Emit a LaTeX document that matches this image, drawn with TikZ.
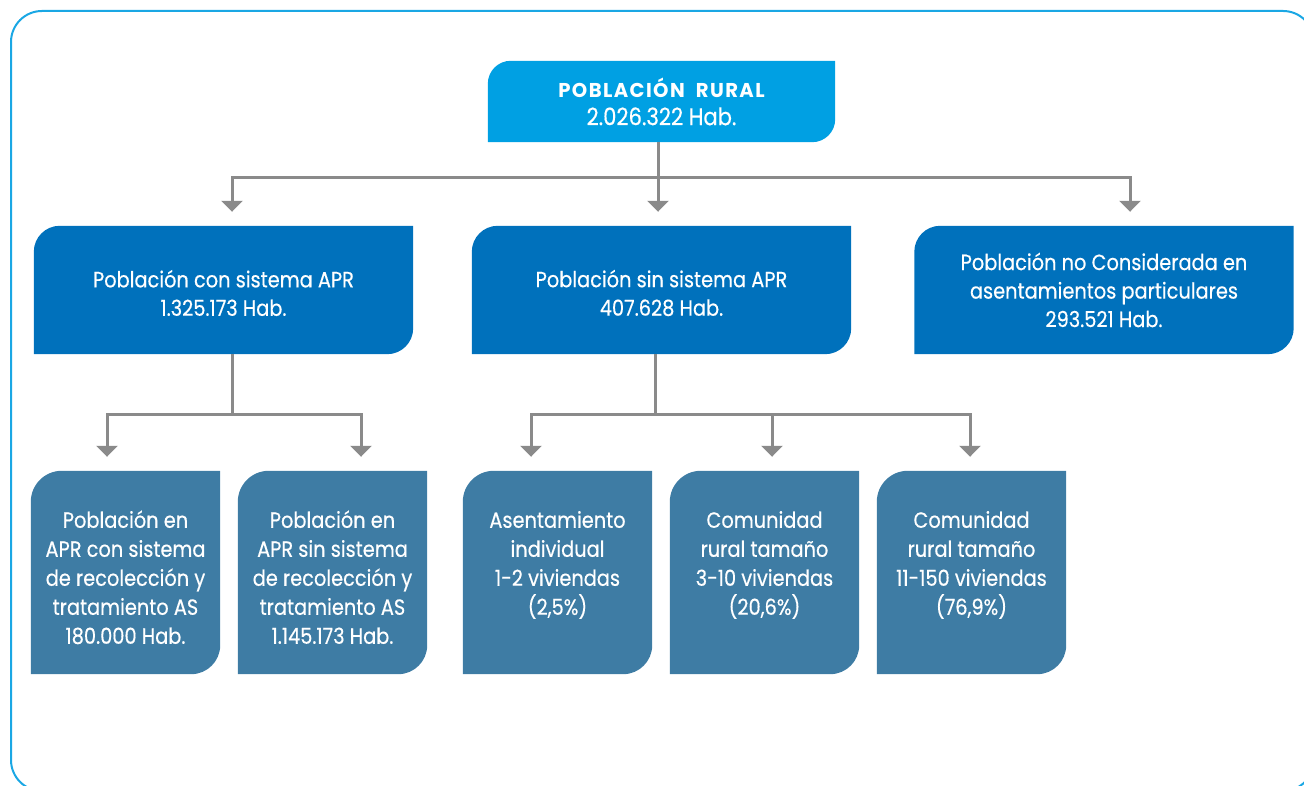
\documentclass[tikz,border=0pt]{standalone}
\usepackage{fontspec}
\setmainfont{Poppins}[FakeStretch=0.88, FakeBold=0.4]
\newfontfamily\headfont{Poppins}[FakeStretch=0.98, LetterSpace=7]
\usetikzlibrary{arrows.meta,backgrounds}

\definecolor{frameblue}{HTML}{1AA7E4}
\definecolor{topblue}{HTML}{00A0E3}
\definecolor{midblue}{HTML}{0071BC}
\definecolor{lowblue}{HTML}{3E7CA4}
\definecolor{linkgray}{HTML}{8A8A8A}

\newcommand{\lowtext}[1]{\parbox[c][130pt][t]{186pt}{\centering\strut #1}}
\newcommand{\midtext}[1]{\parbox{370pt}{\vspace*{6pt}\centering #1}}

\begin{document}
\begin{tikzpicture}[x=1pt,y=1pt,
  box/.style={rectangle, inner sep=0pt, text=white, align=center},
  topbox/.style={box, minimum width=347pt, minimum height=81pt,
    font=\fontsize{24}{28}\selectfont},
  midbox/.style={box, minimum width=379pt, minimum height=128pt,
    font=\fontsize{22}{28.5}\selectfont},
  lowbox/.style={box, minimum width=189pt, minimum height=203pt,
    font=\fontsize{22}{29}\selectfont},
  link/.style={draw=linkgray, line width=3pt,
    -{Triangle[width=21pt,length=11pt]}, shorten >=14pt},
]
\useasboundingbox (0,0) rectangle (1304,786);

% outer frame, running past the right and lower edges
\begin{scope}
  \clip (0,0) rectangle (1304,786);
  \draw[frameblue, line width=2pt, rounded corners=31pt] (11,775) rectangle (1314,-5);
\end{scope}

% boxes
\node[topbox] (top) at (661.5,684.5)
  {{\headfont\bfseries\fontsize{20}{28}\selectfont POBLACIÓN\ \ RURAL}\\2.026.322 Hab.};

\node[midbox] (A) at (223.5,496) {\midtext{Población con sistema APR\\1.325.173 Hab.}};
\node[midbox] (B) at (661.5,496) {\midtext{Población sin sistema APR\\407.628 Hab.}};
\node[midbox] (C) at (1104,496)
  {Población no Considerada en\\asentamientos particulares\\293.521 Hab.};

\node[lowbox] (p1) at (125.5,213.5)
  {\lowtext{Población en\\APR con sistema\\de recolección y\\tratamiento AS\\180.000 Hab.}};
\node[lowbox] (p2) at (332.5,213.5)
  {\lowtext{Población en\\APR sin sistema\\de recolección y\\tratamiento AS\\1.145.173 Hab.}};
\node[lowbox] (p3) at (557.5,213.5)
  {\lowtext{Asentamiento\\individual\\1-2 viviendas\\(2,5\%)}};
\node[lowbox] (p4) at (764.5,213.5)
  {\lowtext{Comunidad\\rural tamaño\\3-10 viviendas\\(20,6\%)}};
\node[lowbox] (p5) at (971.5,213.5)
  {\lowtext{Comunidad\\rural tamaño\\11-150 viviendas\\(76,9\%)}};

% box fills: rounded top-left and bottom-right corners
\begin{scope}[on background layer]
  \foreach \n/\c/\r/\s in {top/topblue/23/23, A/midblue/26/26, B/midblue/26/26,
      C/midblue/26/26, p1/lowblue/31/29, p2/lowblue/31/29, p3/lowblue/31/29,
      p4/lowblue/31/29, p5/lowblue/31/29}
    \fill[\c] (\n.south west) -- ([yshift=-\r pt]\n.north west)
      arc[start angle=180, end angle=90, radius=\r pt] -- (\n.north east)
      -- ([yshift=\s pt]\n.south east)
      arc[start angle=0, end angle=-90, radius=\s pt] -- cycle;
\end{scope}

% connectors
\draw[link] ([xshift=-3.5pt]top.south) -- ++(0,-35) -| ([xshift=8.5pt]A.north);
\draw[link] ([xshift=-3.5pt]top.south) -- ([xshift=-3.5pt]B.north);
\draw[link] ([xshift=-3.5pt]top.south) -- ++(0,-35) -| ([xshift=26pt]C.north);

\draw[link] ([xshift=8.5pt]A.south) -- ++(0,-60) -| ([xshift=-18.5pt]p1.north);
\draw[link] ([xshift=8.5pt]A.south) -- ++(0,-60) -| ([xshift=28.5pt]p2.north);

\draw[link] ([xshift=-6.5pt]B.south) -- ++(0,-60) -| ([xshift=-26.5pt]p3.north);
\draw[link] ([xshift=-6.5pt]B.south) -- ++(0,-60) -| ([xshift=7.5pt]p4.north);
\draw[link] ([xshift=-6.5pt]B.south) -- ++(0,-60) -| ([xshift=-1.5pt]p5.north);
\end{tikzpicture}
\end{document}
